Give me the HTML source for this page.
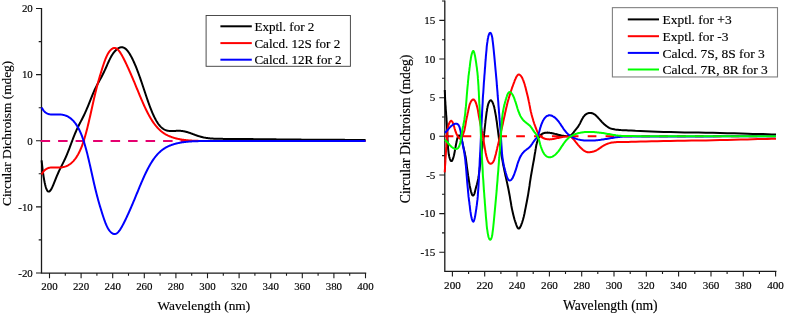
<!DOCTYPE html><html><head><meta charset="utf-8"><title>CD spectra</title>
<style>html,body{margin:0;padding:0;background:#fff}svg{display:block}text{font-family:"Liberation Serif",serif;fill:#000;stroke:#000;stroke-width:0.16px}</style></head><body>
<svg width="787" height="315" viewBox="0 0 787 315">
<rect width="787" height="315" fill="#fff"/>
<g stroke="#1a1a1a" stroke-width="1.3" fill="none" stroke-linecap="butt">
<path d="M41.5,7.9 V273.75 M40.85,273.1 H366.20000000000005"/>
<path d="M49.5,273.1 v5.1 M65.3,273.1 v2.6 M81.1,273.1 v5.1 M96.9,273.1 v2.6 M112.7,273.1 v5.1 M128.5,273.1 v2.6 M144.3,273.1 v5.1 M160.1,273.1 v2.6 M175.9,273.1 v5.1 M191.7,273.1 v2.6 M207.5,273.1 v5.1 M223.3,273.1 v2.6 M239.1,273.1 v5.1 M254.9,273.1 v2.6 M270.7,273.1 v5.1 M286.5,273.1 v2.6 M302.3,273.1 v5.1 M318.1,273.1 v2.6 M333.9,273.1 v5.1 M349.7,273.1 v2.6 M365.5,273.1 v5.1 M41.5,8.5 h-5.5 M41.5,74.6 h-5.5 M41.5,140.8 h-5.5 M41.5,206.9 h-5.5 M41.5,273.0 h-5.5 M41.5,41.6 h-2.8 M41.5,107.7 h-2.8 M41.5,173.8 h-2.8 M41.5,239.9 h-2.8 " stroke-width="1.1"/>
</g>
<g font-size="10.9" text-anchor="middle">
<text x="49.5" y="289.8">200</text>
<text x="81.1" y="289.8">220</text>
<text x="112.7" y="289.8">240</text>
<text x="144.3" y="289.8">260</text>
<text x="175.9" y="289.8">280</text>
<text x="207.5" y="289.8">300</text>
<text x="239.1" y="289.8">320</text>
<text x="270.7" y="289.8">340</text>
<text x="302.3" y="289.8">360</text>
<text x="333.9" y="289.8">380</text>
<text x="365.5" y="289.8">400</text>
</g>
<g font-size="10.9" text-anchor="end">
<text x="32.8" y="12.2">20</text>
<text x="32.8" y="78.3">10</text>
<text x="32.8" y="144.5">0</text>
<text x="32.8" y="210.6">-10</text>
<text x="32.8" y="276.7">-20</text>
</g>
<text font-size="13.35" text-anchor="middle" x="203.8" y="310.4">Wavelength (nm)</text>
<text font-size="13.35" text-anchor="middle" transform="translate(10.5,133.4) rotate(-90)">Circular Dichroism (mdeg)</text>
<path d="M40.6,141.05 H366" stroke="#e5006f" stroke-width="2.1" stroke-dasharray="9.5 8" fill="none"/>
<path d="M41.6,160.43 L42.1,165.05 L42.6,169.28 L43.1,173.10 L43.6,176.54 L44.1,179.59 L44.6,182.26 L45.1,184.57 L45.6,186.52 L46.1,188.12 L46.6,189.40 L47.1,190.37 L47.6,191.05 L48.1,191.46 L48.6,191.62 L49.1,191.55 L49.6,191.27 L50.1,190.80 L50.6,190.17 L51.1,189.40 L51.6,188.51 L52.1,187.51 L52.6,186.43 L53.1,185.28 L53.6,184.09 L54.1,182.86 L54.6,181.61 L55.1,180.36 L55.6,179.11 L56.1,177.87 L56.6,176.65 L57.1,175.45 L57.6,174.28 L58.1,173.14 L58.6,172.03 L59.1,170.95 L59.6,169.89 L60.1,168.86 L60.6,167.84 L61.1,166.84 L61.6,165.85 L62.1,164.87 L62.6,163.88 L63.1,162.88 L63.6,161.88 L64.1,160.85 L64.6,159.80 L65.1,158.73 L65.6,157.63 L66.1,156.50 L66.6,155.34 L67.1,154.14 L67.6,152.92 L68.1,151.67 L68.6,150.39 L69.1,149.09 L69.6,147.78 L70.1,146.44 L70.6,145.10 L71.1,143.76 L71.6,142.41 L72.1,141.07 L72.6,139.75 L73.1,138.43 L73.6,137.14 L74.1,135.87 L74.6,134.63 L75.1,133.42 L75.6,132.24 L76.1,131.08 L76.6,129.96 L77.1,128.87 L77.6,127.81 L78.1,126.78 L78.6,125.76 L79.1,124.77 L79.6,123.79 L80.1,122.82 L80.6,121.86 L81.1,120.90 L81.6,119.94 L82.1,118.97 L82.6,117.99 L83.1,117.00 L83.6,115.98 L84.1,114.95 L84.6,113.89 L85.1,112.81 L85.6,111.70 L86.1,110.57 L86.6,109.41 L87.1,108.23 L87.6,107.03 L88.1,105.81 L88.6,104.57 L89.1,103.33 L89.6,102.07 L90.1,100.81 L90.6,99.56 L91.1,98.30 L91.6,97.06 L92.1,95.83 L92.6,94.62 L93.1,93.44 L93.6,92.27 L94.1,91.13 L94.6,90.03 L95.1,88.95 L95.6,87.90 L96.1,86.88 L96.6,85.89 L97.1,84.92 L97.6,83.98 L98.1,83.06 L98.6,82.15 L99.1,81.25 L99.6,80.35 L100.1,79.46 L100.6,78.56 L101.1,77.65 L101.6,76.73 L102.1,75.78 L102.6,74.81 L103.1,73.82 L103.6,72.80 L104.1,71.76 L104.6,70.69 L105.1,69.60 L105.6,68.49 L106.1,67.37 L106.6,66.23 L107.1,65.10 L107.6,63.96 L108.1,62.84 L108.6,61.74 L109.1,60.66 L109.6,59.61 L110.1,58.60 L110.6,57.62 L111.1,56.70 L111.6,55.81 L112.1,54.98 L112.6,54.20 L113.1,53.46 L113.6,52.77 L114.1,52.13 L114.6,51.53 L115.1,50.98 L115.6,50.46 L116.1,49.99 L116.6,49.55 L117.1,49.14 L117.6,48.77 L118.1,48.44 L118.6,48.15 L119.1,47.89 L119.6,47.67 L120.1,47.50 L120.6,47.36 L121.1,47.28 L121.6,47.24 L122.1,47.25 L122.6,47.31 L123.1,47.43 L123.6,47.60 L124.1,47.83 L124.6,48.11 L125.1,48.45 L125.6,48.84 L126.1,49.29 L126.6,49.79 L127.1,50.34 L127.6,50.94 L128.1,51.59 L128.6,52.28 L129.1,53.02 L129.6,53.80 L130.1,54.62 L130.6,55.48 L131.1,56.38 L131.6,57.32 L132.1,58.29 L132.6,59.29 L133.1,60.33 L133.6,61.40 L134.1,62.50 L134.6,63.63 L135.1,64.79 L135.6,65.99 L136.1,67.21 L136.6,68.46 L137.1,69.74 L137.6,71.04 L138.1,72.38 L138.6,73.73 L139.1,75.11 L139.6,76.51 L140.1,77.93 L140.6,79.37 L141.1,80.83 L141.6,82.30 L142.1,83.78 L142.6,85.27 L143.1,86.77 L143.6,88.28 L144.1,89.78 L144.6,91.29 L145.1,92.79 L145.6,94.29 L146.1,95.78 L146.6,97.26 L147.1,98.72 L147.6,100.17 L148.1,101.60 L148.6,103.01 L149.1,104.39 L149.6,105.75 L150.1,107.08 L150.6,108.39 L151.1,109.66 L151.6,110.90 L152.1,112.10 L152.6,113.27 L153.1,114.41 L153.6,115.50 L154.1,116.56 L154.6,117.57 L155.1,118.55 L155.6,119.49 L156.1,120.38 L156.6,121.24 L157.1,122.05 L157.6,122.83 L158.1,123.56 L158.6,124.25 L159.1,124.90 L159.6,125.52 L160.1,126.09 L160.6,126.63 L161.1,127.13 L161.6,127.59 L162.1,128.01 L162.6,128.41 L163.1,128.77 L163.6,129.09 L164.1,129.39 L164.6,129.65 L165.1,129.89 L165.6,130.10 L166.1,130.29 L166.6,130.45 L167.1,130.59 L167.6,130.71 L168.1,130.80 L168.6,130.88 L169.1,130.95 L169.6,130.99 L170.1,131.03 L170.6,131.05 L171.1,131.06 L171.6,131.06 L172.1,131.05 L172.6,131.04 L173.1,131.02 L173.6,131.00 L174.1,130.97 L174.6,130.94 L175.1,130.92 L175.6,130.89 L176.1,130.86 L176.6,130.84 L177.1,130.82 L177.6,130.81 L178.1,130.80 L178.6,130.80 L179.1,130.81 L179.6,130.82 L180.1,130.84 L180.6,130.87 L181.1,130.91 L181.6,130.96 L182.1,131.01 L182.6,131.08 L183.1,131.15 L183.6,131.24 L184.1,131.33 L184.6,131.43 L185.1,131.54 L185.6,131.66 L186.1,131.79 L186.6,131.92 L187.1,132.07 L187.6,132.22 L188.1,132.37 L188.6,132.53 L189.1,132.70 L189.6,132.87 L190.1,133.05 L190.6,133.23 L191.1,133.41 L191.6,133.59 L192.1,133.78 L192.6,133.97 L193.1,134.15 L193.6,134.34 L194.1,134.53 L194.6,134.71 L195.1,134.90 L195.6,135.08 L196.1,135.26 L196.6,135.43 L197.1,135.61 L197.6,135.78 L198.1,135.94 L198.6,136.10 L199.1,136.26 L199.6,136.41 L200.1,136.55 L200.6,136.69 L201.1,136.83 L201.6,136.96 L202.1,137.08 L202.6,137.20 L203.1,137.32 L203.6,137.42 L204.1,137.53 L204.6,137.62 L205.1,137.72 L205.6,137.80 L206.1,137.89 L206.6,137.96 L207.1,138.04 L207.6,138.10 L208.1,138.17 L208.6,138.23 L209.1,138.28 L209.6,138.33 L210.1,138.38 L210.6,138.43 L211.1,138.47 L211.6,138.51 L212.1,138.54 L212.6,138.57 L213.1,138.60 L213.6,138.63 L214.1,138.66 L214.6,138.68 L215.1,138.70 L215.6,138.72 L216.1,138.74 L216.6,138.75 L217.1,138.77 L217.6,138.78 L218.1,138.80 L218.6,138.81 L219.1,138.82 L219.6,138.83 L220.1,138.84 L220.6,138.84 L221.1,138.85 L221.6,138.86 L222.1,138.87 L222.6,138.87 L223.1,138.88 L223.6,138.88 L224.1,138.89 L224.6,138.89 L225.1,138.90 L225.6,138.90 L226.1,138.90 L226.6,138.91 L227.1,138.91 L227.6,138.92 L228.1,138.92 L228.6,138.92 L229.1,138.93 L229.6,138.93 L230.1,138.93 L230.6,138.94 L231.1,138.94 L231.6,138.94 L232.1,138.95 L232.6,138.95 L233.1,138.95 L233.6,138.96 L234.1,138.96 L234.6,138.96 L235.1,138.97 L235.6,138.97 L236.1,138.97 L236.6,138.98 L237.1,138.98 L237.6,138.98 L238.1,138.99 L238.6,138.99 L239.1,139.00 L239.6,139.00 L240.1,139.00 L240.6,139.01 L241.1,139.01 L241.6,139.02 L242.1,139.02 L242.6,139.02 L243.1,139.03 L243.6,139.03 L244.1,139.04 L244.6,139.04 L245.1,139.04 L245.6,139.05 L246.1,139.05 L246.6,139.06 L247.1,139.06 L247.6,139.07 L248.1,139.07 L248.6,139.08 L249.1,139.08 L249.6,139.09 L250.1,139.09 L250.6,139.10 L251.1,139.10 L251.6,139.11 L252.1,139.11 L252.6,139.12 L253.1,139.12 L253.6,139.13 L254.1,139.13 L254.6,139.14 L255.1,139.14 L255.6,139.15 L256.1,139.15 L256.6,139.16 L257.1,139.16 L257.6,139.17 L258.1,139.17 L258.6,139.18 L259.1,139.18 L259.6,139.19 L260.1,139.19 L260.6,139.20 L261.1,139.20 L261.6,139.21 L262.1,139.21 L262.6,139.22 L263.1,139.23 L263.6,139.23 L264.1,139.24 L264.6,139.24 L265.1,139.25 L265.6,139.25 L266.1,139.26 L266.6,139.26 L267.1,139.27 L267.6,139.28 L268.1,139.28 L268.6,139.29 L269.1,139.29 L269.6,139.30 L270.1,139.30 L270.6,139.31 L271.1,139.31 L271.6,139.32 L272.1,139.33 L272.6,139.33 L273.1,139.34 L273.6,139.34 L274.1,139.35 L274.6,139.35 L275.1,139.36 L275.6,139.36 L276.1,139.37 L276.6,139.38 L277.1,139.38 L277.6,139.39 L278.1,139.39 L278.6,139.40 L279.1,139.40 L279.6,139.41 L280.1,139.41 L280.6,139.42 L281.1,139.42 L281.6,139.43 L282.1,139.44 L282.6,139.44 L283.1,139.45 L283.6,139.45 L284.1,139.46 L284.6,139.46 L285.1,139.47 L285.6,139.47 L286.1,139.48 L286.6,139.48 L287.1,139.49 L287.6,139.49 L288.1,139.50 L288.6,139.50 L289.1,139.51 L289.6,139.51 L290.1,139.52 L290.6,139.52 L291.1,139.53 L291.6,139.53 L292.1,139.54 L292.6,139.54 L293.1,139.55 L293.6,139.55 L294.1,139.56 L294.6,139.56 L295.1,139.57 L295.6,139.57 L296.1,139.58 L296.6,139.58 L297.1,139.59 L297.6,139.59 L298.1,139.60 L298.6,139.60 L299.1,139.61 L299.6,139.61 L300.1,139.62 L300.6,139.62 L301.1,139.62 L301.6,139.63 L302.1,139.63 L302.6,139.64 L303.1,139.64 L303.6,139.65 L304.1,139.65 L304.6,139.65 L305.1,139.66 L305.6,139.66 L306.1,139.67 L306.6,139.67 L307.1,139.67 L307.6,139.68 L308.1,139.68 L308.6,139.69 L309.1,139.69 L309.6,139.69 L310.1,139.70 L310.6,139.70 L311.1,139.70 L311.6,139.71 L312.1,139.71 L312.6,139.72 L313.1,139.72 L313.6,139.72 L314.1,139.73 L314.6,139.73 L315.1,139.73 L315.6,139.74 L316.1,139.74 L316.6,139.74 L317.1,139.75 L317.6,139.75 L318.1,139.75 L318.6,139.76 L319.1,139.76 L319.6,139.76 L320.1,139.77 L320.6,139.77 L321.1,139.77 L321.6,139.77 L322.1,139.78 L322.6,139.78 L323.1,139.78 L323.6,139.79 L324.1,139.79 L324.6,139.79 L325.1,139.79 L325.6,139.80 L326.1,139.80 L326.6,139.80 L327.1,139.80 L327.6,139.81 L328.1,139.81 L328.6,139.81 L329.1,139.81 L329.6,139.82 L330.1,139.82 L330.6,139.82 L331.1,139.82 L331.6,139.83 L332.1,139.83 L332.6,139.83 L333.1,139.83 L333.6,139.83 L334.1,139.84 L334.6,139.84 L335.1,139.84 L335.6,139.84 L336.1,139.85 L336.6,139.85 L337.1,139.85 L337.6,139.85 L338.1,139.85 L338.6,139.85 L339.1,139.86 L339.6,139.86 L340.1,139.86 L340.6,139.86 L341.1,139.86 L341.6,139.87 L342.1,139.87 L342.6,139.87 L343.1,139.87 L343.6,139.87 L344.1,139.87 L344.6,139.87 L345.1,139.88 L345.6,139.88 L346.1,139.88 L346.6,139.88 L347.1,139.88 L347.6,139.88 L348.1,139.88 L348.6,139.89 L349.1,139.89 L349.6,139.89 L350.1,139.89 L350.6,139.89 L351.1,139.89 L351.6,139.89 L352.1,139.90 L352.6,139.90 L353.1,139.90 L353.6,139.90 L354.1,139.90 L354.6,139.90 L355.1,139.90 L355.6,139.90 L356.1,139.90 L356.6,139.90 L357.1,139.91 L357.6,139.91 L358.1,139.91 L358.6,139.91 L359.1,139.91 L359.6,139.91 L360.1,139.91 L360.6,139.91 L361.1,139.91 L361.6,139.91 L362.1,139.91 L362.6,139.92 L363.1,139.92 L363.6,139.92 L364.1,139.92 L364.6,139.92 L365.1,139.92 L365.6,139.92" stroke="#000" stroke-width="2" fill="none" stroke-linejoin="round" stroke-linecap="butt"/>
<path d="M41.6,174.56 L42.1,173.66 L42.6,172.84 L43.1,172.10 L43.6,171.44 L44.1,170.85 L44.6,170.32 L45.1,169.86 L45.6,169.45 L46.1,169.10 L46.6,168.79 L47.1,168.52 L47.6,168.30 L48.1,168.10 L48.6,167.94 L49.1,167.81 L49.6,167.71 L50.1,167.62 L50.6,167.56 L51.1,167.51 L51.6,167.48 L52.1,167.46 L52.6,167.45 L53.1,167.45 L53.6,167.46 L54.1,167.47 L54.6,167.49 L55.1,167.50 L55.6,167.52 L56.1,167.54 L56.6,167.55 L57.1,167.57 L57.6,167.57 L58.1,167.58 L58.6,167.57 L59.1,167.56 L59.6,167.54 L60.1,167.52 L60.6,167.48 L61.1,167.43 L61.6,167.37 L62.1,167.30 L62.6,167.22 L63.1,167.12 L63.6,167.01 L64.1,166.89 L64.6,166.75 L65.1,166.59 L65.6,166.42 L66.1,166.23 L66.6,166.02 L67.1,165.79 L67.6,165.54 L68.1,165.28 L68.6,164.99 L69.1,164.68 L69.6,164.35 L70.1,164.00 L70.6,163.62 L71.1,163.22 L71.6,162.79 L72.1,162.34 L72.6,161.86 L73.1,161.35 L73.6,160.81 L74.1,160.24 L74.6,159.63 L75.1,159.00 L75.6,158.32 L76.1,157.62 L76.6,156.87 L77.1,156.08 L77.6,155.25 L78.1,154.38 L78.6,153.45 L79.1,152.48 L79.6,151.46 L80.1,150.39 L80.6,149.26 L81.1,148.07 L81.6,146.82 L82.1,145.52 L82.6,144.15 L83.1,142.71 L83.6,141.21 L84.1,139.64 L84.6,138.01 L85.1,136.31 L85.6,134.55 L86.1,132.72 L86.6,130.83 L87.1,128.88 L87.6,126.88 L88.1,124.82 L88.6,122.72 L89.1,120.58 L89.6,118.40 L90.1,116.19 L90.6,113.96 L91.1,111.71 L91.6,109.45 L92.1,107.20 L92.6,104.95 L93.1,102.72 L93.6,100.50 L94.1,98.32 L94.6,96.17 L95.1,94.05 L95.6,91.98 L96.1,89.96 L96.6,87.98 L97.1,86.05 L97.6,84.17 L98.1,82.33 L98.6,80.54 L99.1,78.79 L99.6,77.07 L100.1,75.39 L100.6,73.73 L101.1,72.10 L101.6,70.48 L102.1,68.89 L102.6,67.32 L103.1,65.78 L103.6,64.27 L104.1,62.80 L104.6,61.38 L105.1,60.02 L105.6,58.73 L106.1,57.51 L106.6,56.37 L107.1,55.31 L107.6,54.34 L108.1,53.45 L108.6,52.64 L109.1,51.90 L109.6,51.23 L110.1,50.62 L110.6,50.08 L111.1,49.59 L111.6,49.16 L112.1,48.80 L112.6,48.49 L113.1,48.25 L113.6,48.07 L114.1,47.97 L114.6,47.93 L115.1,47.98 L115.6,48.10 L116.1,48.30 L116.6,48.57 L117.1,48.92 L117.6,49.34 L118.1,49.83 L118.6,50.38 L119.1,51.00 L119.6,51.67 L120.1,52.39 L120.6,53.16 L121.1,53.97 L121.6,54.82 L122.1,55.70 L122.6,56.62 L123.1,57.56 L123.6,58.52 L124.1,59.50 L124.6,60.51 L125.1,61.53 L125.6,62.56 L126.1,63.61 L126.6,64.67 L127.1,65.74 L127.6,66.82 L128.1,67.91 L128.6,69.02 L129.1,70.13 L129.6,71.25 L130.1,72.38 L130.6,73.52 L131.1,74.67 L131.6,75.83 L132.1,76.99 L132.6,78.17 L133.1,79.35 L133.6,80.54 L134.1,81.74 L134.6,82.94 L135.1,84.14 L135.6,85.35 L136.1,86.57 L136.6,87.78 L137.1,89.00 L137.6,90.22 L138.1,91.43 L138.6,92.64 L139.1,93.85 L139.6,95.06 L140.1,96.26 L140.6,97.45 L141.1,98.63 L141.6,99.80 L142.1,100.96 L142.6,102.11 L143.1,103.25 L143.6,104.37 L144.1,105.48 L144.6,106.57 L145.1,107.65 L145.6,108.70 L146.1,109.74 L146.6,110.77 L147.1,111.77 L147.6,112.75 L148.1,113.71 L148.6,114.65 L149.1,115.57 L149.6,116.46 L150.1,117.34 L150.6,118.19 L151.1,119.02 L151.6,119.83 L152.1,120.62 L152.6,121.38 L153.1,122.12 L153.6,122.84 L154.1,123.54 L154.6,124.22 L155.1,124.87 L155.6,125.50 L156.1,126.11 L156.6,126.70 L157.1,127.28 L157.6,127.83 L158.1,128.36 L158.6,128.87 L159.1,129.36 L159.6,129.84 L160.1,130.30 L160.6,130.74 L161.1,131.16 L161.6,131.57 L162.1,131.96 L162.6,132.34 L163.1,132.70 L163.6,133.05 L164.1,133.38 L164.6,133.70 L165.1,134.01 L165.6,134.30 L166.1,134.59 L166.6,134.86 L167.1,135.12 L167.6,135.37 L168.1,135.62 L168.6,135.85 L169.1,136.07 L169.6,136.28 L170.1,136.49 L170.6,136.69 L171.1,136.88 L171.6,137.06 L172.1,137.24 L172.6,137.40 L173.1,137.57 L173.6,137.72 L174.1,137.87 L174.6,138.02 L175.1,138.15 L175.6,138.29 L176.1,138.42 L176.6,138.54 L177.1,138.66 L177.6,138.77 L178.1,138.88 L178.6,138.99 L179.1,139.09 L179.6,139.18 L180.1,139.28 L180.6,139.37 L181.1,139.45 L181.6,139.54 L182.1,139.62 L182.6,139.69 L183.1,139.76 L183.6,139.83 L184.1,139.90 L184.6,139.96 L185.1,140.03 L185.6,140.08 L186.1,140.14 L186.6,140.19 L187.1,140.24 L187.6,140.29 L188.1,140.34 L188.6,140.38 L189.1,140.42 L189.6,140.46 L190.1,140.50 L190.6,140.53 L191.1,140.57 L191.6,140.60 L192.1,140.63 L192.6,140.65 L193.1,140.68 L193.6,140.71 L194.1,140.73 L194.6,140.75 L195.1,140.77 L195.6,140.79 L196.1,140.81 L196.6,140.82 L197.1,140.84 L197.6,140.85 L198.1,140.87 L198.6,140.88 L199.1,140.89 L199.6,140.90 L200.1,140.91 L200.6,140.92 L201.1,140.93 L201.6,140.94 L202.1,140.94 L202.6,140.95 L203.1,140.96 L203.6,140.96 L204.1,140.97 L204.6,140.97 L205.1,140.97 L205.6,140.98 L206.1,140.98 L206.6,140.98 L207.1,140.99 L207.6,140.99 L208.1,140.99 L208.6,140.99 L209.1,140.99 L209.6,141.00 L210.1,141.00 L210.6,141.00 L211.1,141.00 L211.6,141.00 L212.1,141.00 L212.6,141.00 L213.1,141.00 L213.6,141.00 L214.1,141.00 L214.6,141.00 L215.1,141.00 L215.6,141.00 L216.1,141.00 L216.6,141.00 L217.1,141.00 L217.6,141.00 L218.1,141.00 L218.6,141.00 L219.1,141.00 L219.6,141.00 L220.1,141.00 L220.6,141.00 L221.1,141.00 L221.6,141.00 L222.1,141.00 L222.6,141.00 L223.1,141.00 L223.6,141.00 L224.1,141.00 L224.6,141.00 L225.1,141.00 L225.6,141.00 L226.1,141.00 L226.6,141.00 L227.1,141.00 L227.6,141.00 L228.1,141.00 L228.6,141.00 L229.1,141.00 L229.6,141.00 L230.1,141.00 L230.6,141.00 L231.1,141.00 L231.6,141.00 L232.1,141.00 L232.6,141.00 L233.1,141.00 L233.6,141.00 L234.1,141.00 L234.6,141.00 L235.1,141.00 L235.6,141.00 L236.1,141.00 L236.6,141.00 L237.1,141.00 L237.6,141.00 L238.1,141.00 L238.6,141.00 L239.1,141.00 L239.6,141.00 L240.1,141.00 L240.6,141.00 L241.1,141.00 L241.6,141.00 L242.1,141.00 L242.6,141.00 L243.1,141.00 L243.6,141.00 L244.1,141.00 L244.6,141.00 L245.1,141.00 L245.6,141.00 L246.1,141.00 L246.6,141.00 L247.1,141.00 L247.6,141.00 L248.1,141.00 L248.6,141.00 L249.1,141.00 L249.6,141.00 L250.1,141.00 L250.6,141.00 L251.1,141.00 L251.6,141.00 L252.1,141.00 L252.6,141.00 L253.1,141.00 L253.6,141.00 L254.1,141.00 L254.6,141.00 L255.1,141.00 L255.6,141.00 L256.1,141.00 L256.6,141.00 L257.1,141.00 L257.6,141.00 L258.1,141.00 L258.6,141.00 L259.1,141.00 L259.6,141.00 L260.1,141.00 L260.6,141.00 L261.1,141.00 L261.6,141.00 L262.1,141.00 L262.6,141.00 L263.1,141.00 L263.6,141.00 L264.1,141.00 L264.6,141.00 L265.1,141.00 L265.6,141.00 L266.1,141.00 L266.6,141.00 L267.1,141.00 L267.6,141.00 L268.1,141.00 L268.6,141.00 L269.1,141.00 L269.6,141.00 L270.1,141.00 L270.6,141.00 L271.1,141.00 L271.6,141.00 L272.1,141.00 L272.6,141.00 L273.1,141.00 L273.6,141.00 L274.1,141.00 L274.6,141.00 L275.1,141.00 L275.6,141.00 L276.1,141.00 L276.6,141.00 L277.1,141.00 L277.6,141.00 L278.1,141.00 L278.6,141.00 L279.1,141.00 L279.6,141.00 L280.1,141.00 L280.6,141.00 L281.1,141.00 L281.6,141.00 L282.1,141.00 L282.6,141.00 L283.1,141.00 L283.6,141.00 L284.1,141.00 L284.6,141.00 L285.1,141.00 L285.6,141.00 L286.1,141.00 L286.6,141.00 L287.1,141.00 L287.6,141.00 L288.1,141.00 L288.6,141.00 L289.1,141.00 L289.6,141.00 L290.1,141.00 L290.6,141.00 L291.1,141.00 L291.6,141.00 L292.1,141.00 L292.6,141.00 L293.1,141.00 L293.6,141.00 L294.1,141.00 L294.6,141.00 L295.1,141.00 L295.6,141.00 L296.1,141.00 L296.6,141.00 L297.1,141.00 L297.6,141.00 L298.1,141.00 L298.6,141.00 L299.1,141.00 L299.6,141.00 L300.1,141.00 L300.6,141.00 L301.1,141.00 L301.6,141.00 L302.1,141.00 L302.6,141.00 L303.1,141.00 L303.6,141.00 L304.1,141.00 L304.6,141.00 L305.1,141.00 L305.6,141.00 L306.1,141.00 L306.6,141.00 L307.1,141.00 L307.6,141.00 L308.1,141.00 L308.6,141.00 L309.1,141.00 L309.6,141.00 L310.1,141.00 L310.6,141.00 L311.1,141.00 L311.6,141.00 L312.1,141.00 L312.6,141.00 L313.1,141.00 L313.6,141.00 L314.1,141.00 L314.6,141.00 L315.1,141.00 L315.6,141.00 L316.1,141.00 L316.6,141.00 L317.1,141.00 L317.6,141.00 L318.1,141.00 L318.6,141.00 L319.1,141.00 L319.6,141.00 L320.1,141.00 L320.6,141.00 L321.1,141.00 L321.6,141.00 L322.1,141.00 L322.6,141.00 L323.1,141.00 L323.6,141.00 L324.1,141.00 L324.6,141.00 L325.1,141.00 L325.6,141.00 L326.1,141.00 L326.6,141.00 L327.1,141.00 L327.6,141.00 L328.1,141.00 L328.6,141.00 L329.1,141.00 L329.6,141.00 L330.1,141.00 L330.6,141.00 L331.1,141.00 L331.6,141.00 L332.1,141.00 L332.6,141.00 L333.1,141.00 L333.6,141.00 L334.1,141.00 L334.6,141.00 L335.1,141.00 L335.6,141.00 L336.1,141.00 L336.6,141.00 L337.1,141.00 L337.6,141.00 L338.1,141.00 L338.6,141.00 L339.1,141.00 L339.6,141.00 L340.1,141.00 L340.6,141.00 L341.1,141.00 L341.6,141.00 L342.1,141.00 L342.6,141.00 L343.1,141.00 L343.6,141.00 L344.1,141.00 L344.6,141.00 L345.1,141.00 L345.6,141.00 L346.1,141.00 L346.6,141.00 L347.1,141.00 L347.6,141.00 L348.1,141.00 L348.6,141.00 L349.1,141.00 L349.6,141.00 L350.1,141.00 L350.6,141.00 L351.1,141.00 L351.6,141.00 L352.1,141.00 L352.6,141.00 L353.1,141.00 L353.6,141.00 L354.1,141.00 L354.6,141.00 L355.1,141.00 L355.6,141.00 L356.1,141.00 L356.6,141.00 L357.1,141.00 L357.6,141.00 L358.1,141.00 L358.6,141.00 L359.1,141.00 L359.6,141.00 L360.1,141.00 L360.6,141.00 L361.1,141.00 L361.6,141.00 L362.1,141.00 L362.6,141.00 L363.1,141.00 L363.6,141.00 L364.1,141.00 L364.6,141.00 L365.1,141.00 L365.6,141.00" stroke="#ff0000" stroke-width="2" fill="none" stroke-linejoin="round" stroke-linecap="butt"/>
<path d="M41.6,107.44 L42.1,108.34 L42.6,109.16 L43.1,109.90 L43.6,110.56 L44.1,111.15 L44.6,111.68 L45.1,112.14 L45.6,112.55 L46.1,112.90 L46.6,113.21 L47.1,113.48 L47.6,113.70 L48.1,113.90 L48.6,114.06 L49.1,114.19 L49.6,114.29 L50.1,114.38 L50.6,114.44 L51.1,114.49 L51.6,114.52 L52.1,114.54 L52.6,114.55 L53.1,114.55 L53.6,114.54 L54.1,114.53 L54.6,114.51 L55.1,114.50 L55.6,114.48 L56.1,114.46 L56.6,114.45 L57.1,114.43 L57.6,114.43 L58.1,114.42 L58.6,114.43 L59.1,114.44 L59.6,114.46 L60.1,114.48 L60.6,114.52 L61.1,114.57 L61.6,114.63 L62.1,114.70 L62.6,114.78 L63.1,114.88 L63.6,114.99 L64.1,115.11 L64.6,115.25 L65.1,115.41 L65.6,115.58 L66.1,115.77 L66.6,115.98 L67.1,116.21 L67.6,116.46 L68.1,116.72 L68.6,117.01 L69.1,117.32 L69.6,117.65 L70.1,118.00 L70.6,118.38 L71.1,118.78 L71.6,119.21 L72.1,119.66 L72.6,120.14 L73.1,120.65 L73.6,121.19 L74.1,121.76 L74.6,122.37 L75.1,123.00 L75.6,123.68 L76.1,124.38 L76.6,125.13 L77.1,125.92 L77.6,126.75 L78.1,127.62 L78.6,128.55 L79.1,129.52 L79.6,130.54 L80.1,131.61 L80.6,132.74 L81.1,133.93 L81.6,135.18 L82.1,136.48 L82.6,137.85 L83.1,139.29 L83.6,140.79 L84.1,142.36 L84.6,143.99 L85.1,145.69 L85.6,147.45 L86.1,149.28 L86.6,151.17 L87.1,153.12 L87.6,155.12 L88.1,157.18 L88.6,159.28 L89.1,161.42 L89.6,163.60 L90.1,165.81 L90.6,168.04 L91.1,170.29 L91.6,172.55 L92.1,174.80 L92.6,177.05 L93.1,179.28 L93.6,181.50 L94.1,183.68 L94.6,185.83 L95.1,187.95 L95.6,190.02 L96.1,192.04 L96.6,194.02 L97.1,195.95 L97.6,197.83 L98.1,199.67 L98.6,201.46 L99.1,203.21 L99.6,204.93 L100.1,206.61 L100.6,208.27 L101.1,209.90 L101.6,211.52 L102.1,213.11 L102.6,214.68 L103.1,216.22 L103.6,217.73 L104.1,219.20 L104.6,220.62 L105.1,221.98 L105.6,223.27 L106.1,224.49 L106.6,225.63 L107.1,226.69 L107.6,227.66 L108.1,228.55 L108.6,229.36 L109.1,230.10 L109.6,230.77 L110.1,231.38 L110.6,231.92 L111.1,232.41 L111.6,232.84 L112.1,233.20 L112.6,233.51 L113.1,233.75 L113.6,233.93 L114.1,234.03 L114.6,234.07 L115.1,234.02 L115.6,233.90 L116.1,233.70 L116.6,233.43 L117.1,233.08 L117.6,232.66 L118.1,232.17 L118.6,231.62 L119.1,231.00 L119.6,230.33 L120.1,229.61 L120.6,228.84 L121.1,228.03 L121.6,227.18 L122.1,226.30 L122.6,225.38 L123.1,224.44 L123.6,223.48 L124.1,222.50 L124.6,221.49 L125.1,220.47 L125.6,219.44 L126.1,218.39 L126.6,217.33 L127.1,216.26 L127.6,215.18 L128.1,214.09 L128.6,212.98 L129.1,211.87 L129.6,210.75 L130.1,209.62 L130.6,208.48 L131.1,207.33 L131.6,206.17 L132.1,205.01 L132.6,203.83 L133.1,202.65 L133.6,201.46 L134.1,200.26 L134.6,199.06 L135.1,197.86 L135.6,196.65 L136.1,195.43 L136.6,194.22 L137.1,193.00 L137.6,191.78 L138.1,190.57 L138.6,189.36 L139.1,188.15 L139.6,186.94 L140.1,185.74 L140.6,184.55 L141.1,183.37 L141.6,182.20 L142.1,181.04 L142.6,179.89 L143.1,178.75 L143.6,177.63 L144.1,176.52 L144.6,175.43 L145.1,174.35 L145.6,173.30 L146.1,172.26 L146.6,171.23 L147.1,170.23 L147.6,169.25 L148.1,168.29 L148.6,167.35 L149.1,166.43 L149.6,165.54 L150.1,164.66 L150.6,163.81 L151.1,162.98 L151.6,162.17 L152.1,161.38 L152.6,160.62 L153.1,159.88 L153.6,159.16 L154.1,158.46 L154.6,157.78 L155.1,157.13 L155.6,156.50 L156.1,155.89 L156.6,155.30 L157.1,154.72 L157.6,154.17 L158.1,153.64 L158.6,153.13 L159.1,152.64 L159.6,152.16 L160.1,151.70 L160.6,151.26 L161.1,150.84 L161.6,150.43 L162.1,150.04 L162.6,149.66 L163.1,149.30 L163.6,148.95 L164.1,148.62 L164.6,148.30 L165.1,147.99 L165.6,147.70 L166.1,147.41 L166.6,147.14 L167.1,146.88 L167.6,146.63 L168.1,146.38 L168.6,146.15 L169.1,145.93 L169.6,145.72 L170.1,145.51 L170.6,145.31 L171.1,145.12 L171.6,144.94 L172.1,144.76 L172.6,144.60 L173.1,144.43 L173.6,144.28 L174.1,144.13 L174.6,143.98 L175.1,143.85 L175.6,143.71 L176.1,143.58 L176.6,143.46 L177.1,143.34 L177.6,143.23 L178.1,143.12 L178.6,143.01 L179.1,142.91 L179.6,142.82 L180.1,142.72 L180.6,142.63 L181.1,142.55 L181.6,142.46 L182.1,142.38 L182.6,142.31 L183.1,142.24 L183.6,142.17 L184.1,142.10 L184.6,142.04 L185.1,141.97 L185.6,141.92 L186.1,141.86 L186.6,141.81 L187.1,141.76 L187.6,141.71 L188.1,141.66 L188.6,141.62 L189.1,141.58 L189.6,141.54 L190.1,141.50 L190.6,141.47 L191.1,141.43 L191.6,141.40 L192.1,141.37 L192.6,141.35 L193.1,141.32 L193.6,141.29 L194.1,141.27 L194.6,141.25 L195.1,141.23 L195.6,141.21 L196.1,141.19 L196.6,141.18 L197.1,141.16 L197.6,141.15 L198.1,141.13 L198.6,141.12 L199.1,141.11 L199.6,141.10 L200.1,141.09 L200.6,141.08 L201.1,141.07 L201.6,141.06 L202.1,141.06 L202.6,141.05 L203.1,141.04 L203.6,141.04 L204.1,141.03 L204.6,141.03 L205.1,141.03 L205.6,141.02 L206.1,141.02 L206.6,141.02 L207.1,141.01 L207.6,141.01 L208.1,141.01 L208.6,141.01 L209.1,141.01 L209.6,141.00 L210.1,141.00 L210.6,141.00 L211.1,141.00 L211.6,141.00 L212.1,141.00 L212.6,141.00 L213.1,141.00 L213.6,141.00 L214.1,141.00 L214.6,141.00 L215.1,141.00 L215.6,141.00 L216.1,141.00 L216.6,141.00 L217.1,141.00 L217.6,141.00 L218.1,141.00 L218.6,141.00 L219.1,141.00 L219.6,141.00 L220.1,141.00 L220.6,141.00 L221.1,141.00 L221.6,141.00 L222.1,141.00 L222.6,141.00 L223.1,141.00 L223.6,141.00 L224.1,141.00 L224.6,141.00 L225.1,141.00 L225.6,141.00 L226.1,141.00 L226.6,141.00 L227.1,141.00 L227.6,141.00 L228.1,141.00 L228.6,141.00 L229.1,141.00 L229.6,141.00 L230.1,141.00 L230.6,141.00 L231.1,141.00 L231.6,141.00 L232.1,141.00 L232.6,141.00 L233.1,141.00 L233.6,141.00 L234.1,141.00 L234.6,141.00 L235.1,141.00 L235.6,141.00 L236.1,141.00 L236.6,141.00 L237.1,141.00 L237.6,141.00 L238.1,141.00 L238.6,141.00 L239.1,141.00 L239.6,141.00 L240.1,141.00 L240.6,141.00 L241.1,141.00 L241.6,141.00 L242.1,141.00 L242.6,141.00 L243.1,141.00 L243.6,141.00 L244.1,141.00 L244.6,141.00 L245.1,141.00 L245.6,141.00 L246.1,141.00 L246.6,141.00 L247.1,141.00 L247.6,141.00 L248.1,141.00 L248.6,141.00 L249.1,141.00 L249.6,141.00 L250.1,141.00 L250.6,141.00 L251.1,141.00 L251.6,141.00 L252.1,141.00 L252.6,141.00 L253.1,141.00 L253.6,141.00 L254.1,141.00 L254.6,141.00 L255.1,141.00 L255.6,141.00 L256.1,141.00 L256.6,141.00 L257.1,141.00 L257.6,141.00 L258.1,141.00 L258.6,141.00 L259.1,141.00 L259.6,141.00 L260.1,141.00 L260.6,141.00 L261.1,141.00 L261.6,141.00 L262.1,141.00 L262.6,141.00 L263.1,141.00 L263.6,141.00 L264.1,141.00 L264.6,141.00 L265.1,141.00 L265.6,141.00 L266.1,141.00 L266.6,141.00 L267.1,141.00 L267.6,141.00 L268.1,141.00 L268.6,141.00 L269.1,141.00 L269.6,141.00 L270.1,141.00 L270.6,141.00 L271.1,141.00 L271.6,141.00 L272.1,141.00 L272.6,141.00 L273.1,141.00 L273.6,141.00 L274.1,141.00 L274.6,141.00 L275.1,141.00 L275.6,141.00 L276.1,141.00 L276.6,141.00 L277.1,141.00 L277.6,141.00 L278.1,141.00 L278.6,141.00 L279.1,141.00 L279.6,141.00 L280.1,141.00 L280.6,141.00 L281.1,141.00 L281.6,141.00 L282.1,141.00 L282.6,141.00 L283.1,141.00 L283.6,141.00 L284.1,141.00 L284.6,141.00 L285.1,141.00 L285.6,141.00 L286.1,141.00 L286.6,141.00 L287.1,141.00 L287.6,141.00 L288.1,141.00 L288.6,141.00 L289.1,141.00 L289.6,141.00 L290.1,141.00 L290.6,141.00 L291.1,141.00 L291.6,141.00 L292.1,141.00 L292.6,141.00 L293.1,141.00 L293.6,141.00 L294.1,141.00 L294.6,141.00 L295.1,141.00 L295.6,141.00 L296.1,141.00 L296.6,141.00 L297.1,141.00 L297.6,141.00 L298.1,141.00 L298.6,141.00 L299.1,141.00 L299.6,141.00 L300.1,141.00 L300.6,141.00 L301.1,141.00 L301.6,141.00 L302.1,141.00 L302.6,141.00 L303.1,141.00 L303.6,141.00 L304.1,141.00 L304.6,141.00 L305.1,141.00 L305.6,141.00 L306.1,141.00 L306.6,141.00 L307.1,141.00 L307.6,141.00 L308.1,141.00 L308.6,141.00 L309.1,141.00 L309.6,141.00 L310.1,141.00 L310.6,141.00 L311.1,141.00 L311.6,141.00 L312.1,141.00 L312.6,141.00 L313.1,141.00 L313.6,141.00 L314.1,141.00 L314.6,141.00 L315.1,141.00 L315.6,141.00 L316.1,141.00 L316.6,141.00 L317.1,141.00 L317.6,141.00 L318.1,141.00 L318.6,141.00 L319.1,141.00 L319.6,141.00 L320.1,141.00 L320.6,141.00 L321.1,141.00 L321.6,141.00 L322.1,141.00 L322.6,141.00 L323.1,141.00 L323.6,141.00 L324.1,141.00 L324.6,141.00 L325.1,141.00 L325.6,141.00 L326.1,141.00 L326.6,141.00 L327.1,141.00 L327.6,141.00 L328.1,141.00 L328.6,141.00 L329.1,141.00 L329.6,141.00 L330.1,141.00 L330.6,141.00 L331.1,141.00 L331.6,141.00 L332.1,141.00 L332.6,141.00 L333.1,141.00 L333.6,141.00 L334.1,141.00 L334.6,141.00 L335.1,141.00 L335.6,141.00 L336.1,141.00 L336.6,141.00 L337.1,141.00 L337.6,141.00 L338.1,141.00 L338.6,141.00 L339.1,141.00 L339.6,141.00 L340.1,141.00 L340.6,141.00 L341.1,141.00 L341.6,141.00 L342.1,141.00 L342.6,141.00 L343.1,141.00 L343.6,141.00 L344.1,141.00 L344.6,141.00 L345.1,141.00 L345.6,141.00 L346.1,141.00 L346.6,141.00 L347.1,141.00 L347.6,141.00 L348.1,141.00 L348.6,141.00 L349.1,141.00 L349.6,141.00 L350.1,141.00 L350.6,141.00 L351.1,141.00 L351.6,141.00 L352.1,141.00 L352.6,141.00 L353.1,141.00 L353.6,141.00 L354.1,141.00 L354.6,141.00 L355.1,141.00 L355.6,141.00 L356.1,141.00 L356.6,141.00 L357.1,141.00 L357.6,141.00 L358.1,141.00 L358.6,141.00 L359.1,141.00 L359.6,141.00 L360.1,141.00 L360.6,141.00 L361.1,141.00 L361.6,141.00 L362.1,141.00 L362.6,141.00 L363.1,141.00 L363.6,141.00 L364.1,141.00 L364.6,141.00 L365.1,141.00 L365.6,141.00" stroke="#0000ff" stroke-width="2" fill="none" stroke-linejoin="round" stroke-linecap="butt"/>
<rect x="206.1" y="15.5" width="144.3" height="50.8" fill="#fff" stroke="#444" stroke-width="0.95"/>
<path d="M220.4,26.3 H251.8" stroke="#000" stroke-width="2"/>
<text font-size="13.1" x="254.4" y="31.0">Exptl. for 2</text>
<path d="M220.4,43.1 H251.8" stroke="#ff0000" stroke-width="2"/>
<text font-size="13.1" x="254.4" y="47.8">Calcd. 12S for 2</text>
<path d="M220.4,59.7 H251.8" stroke="#0000ff" stroke-width="2"/>
<text font-size="13.1" x="254.4" y="64.4">Calcd. 12R for 2</text>
<g stroke="#1a1a1a" stroke-width="1.3" fill="none" stroke-linecap="butt">
<path d="M444.8,0.6 V271.95 M444.15000000000003,271.3 H776.4"/>
<path d="M452.4,271.3 v5.1 M468.6,271.3 v2.6 M484.7,271.3 v5.1 M500.9,271.3 v2.6 M517.0,271.3 v5.1 M533.2,271.3 v2.6 M549.4,271.3 v5.1 M565.5,271.3 v2.6 M581.7,271.3 v5.1 M597.8,271.3 v2.6 M614.0,271.3 v5.1 M630.2,271.3 v2.6 M646.3,271.3 v5.1 M662.5,271.3 v2.6 M678.6,271.3 v5.1 M694.8,271.3 v2.6 M711.0,271.3 v5.1 M727.1,271.3 v2.6 M743.3,271.3 v5.1 M759.4,271.3 v2.6 M775.6,271.3 v5.1 M444.8,20.4 h-5.5 M444.8,59.0 h-5.5 M444.8,97.7 h-5.5 M444.8,136.3 h-5.5 M444.8,175.0 h-5.5 M444.8,213.6 h-5.5 M444.8,252.2 h-5.5 M444.8,1.0 h-2.8 M444.8,39.7 h-2.8 M444.8,78.3 h-2.8 M444.8,117.0 h-2.8 M444.8,155.6 h-2.8 M444.8,194.3 h-2.8 M444.8,232.9 h-2.8 " stroke-width="1.1"/>
</g>
<g font-size="11.1" text-anchor="middle">
<text x="452.4" y="288.5">200</text>
<text x="484.7" y="288.5">220</text>
<text x="517.0" y="288.5">240</text>
<text x="549.4" y="288.5">260</text>
<text x="581.7" y="288.5">280</text>
<text x="614.0" y="288.5">300</text>
<text x="646.3" y="288.5">320</text>
<text x="678.6" y="288.5">340</text>
<text x="711.0" y="288.5">360</text>
<text x="743.3" y="288.5">380</text>
<text x="775.6" y="288.5">400</text>
</g>
<g font-size="11.1" text-anchor="end">
<text x="435.4" y="24.1">15</text>
<text x="435.4" y="62.8">10</text>
<text x="435.4" y="101.4">5</text>
<text x="435.4" y="140.1">0</text>
<text x="435.4" y="178.7">-5</text>
<text x="435.4" y="217.4">-10</text>
<text x="435.4" y="256.0">-15</text>
</g>
<text font-size="13.65" text-anchor="middle" x="610.3" y="309.6">Wavelength (nm)</text>
<text font-size="13.65" text-anchor="middle" transform="translate(410.3,128.9) rotate(-90)">Circular Dichroism (mdeg)</text>
<path d="M444.7,136.35 H776" stroke="#ff0000" stroke-width="2" stroke-dasharray="8.7 9.175" fill="none"/>
<path d="M444.8,90.0 L444.8,91.3 L444.9,92.6 L444.9,93.9 L445.0,95.2 L445.0,96.5 L445.1,97.8 L445.1,99.0 L445.2,100.2 L445.3,101.4 L445.4,102.6 L445.4,103.8 L445.5,105.0 L445.6,106.2 L445.7,107.3 L445.7,108.5 L445.8,109.6 L445.9,110.8 L446.0,111.9 L446.1,113.0 L446.1,114.0 L446.2,115.1 L446.3,116.2 L446.4,117.3 L446.5,118.5 L446.5,119.7 L446.6,121.1 L446.7,122.6 L446.8,124.1 L446.9,125.7 L447.0,127.4 L447.1,129.9 L447.2,132.8 L447.4,135.8 L447.5,138.9 L447.7,141.9 L447.9,144.9 L448.0,147.3 L448.2,149.3 L448.4,151.2 L448.6,152.9 L448.8,154.5 L449.1,155.9 L449.3,156.9 L449.5,157.6 L449.7,158.3 L449.9,158.9 L450.1,159.4 L450.3,159.9 L450.5,160.3 L450.6,160.5 L450.8,160.7 L451.0,160.9 L451.1,161.0 L451.3,161.1 L451.5,161.1 L451.6,161.1 L451.8,161.0 L452.0,160.8 L452.1,160.6 L452.3,160.3 L452.5,160.0 L452.7,159.4 L453.0,158.7 L453.2,158.0 L453.5,157.1 L453.7,156.3 L454.0,155.2 L454.3,153.7 L454.6,152.2 L454.9,150.6 L455.2,149.0 L455.5,147.4 L455.8,145.8 L456.0,144.5 L456.3,143.1 L456.6,141.8 L456.8,140.6 L457.1,139.4 L457.4,138.4 L457.6,137.6 L457.9,136.9 L458.1,136.3 L458.4,135.9 L458.7,135.6 L459.0,135.4 L459.3,135.5 L459.7,135.7 L460.0,136.0 L460.4,136.4 L460.7,136.9 L461.0,137.5 L461.4,138.5 L461.8,139.6 L462.1,140.9 L462.4,142.2 L462.7,143.6 L463.0,145.1 L463.4,146.9 L463.8,148.7 L464.2,150.6 L464.7,152.4 L465.0,154.2 L465.4,155.9 L465.7,157.5 L465.9,158.9 L466.1,160.4 L466.3,161.8 L466.5,163.3 L466.7,164.9 L466.9,166.8 L467.2,168.9 L467.5,171.0 L467.8,173.2 L468.1,175.5 L468.5,177.7 L468.8,179.8 L469.1,181.8 L469.4,183.8 L469.7,185.7 L470.1,187.5 L470.4,189.1 L470.7,190.3 L470.9,191.2 L471.2,192.1 L471.4,192.9 L471.7,193.7 L471.9,194.3 L472.1,194.7 L472.3,195.0 L472.4,195.2 L472.6,195.4 L472.8,195.5 L473.0,195.6 L473.2,195.6 L473.4,195.4 L473.6,195.2 L473.8,194.9 L474.0,194.5 L474.2,194.1 L474.5,193.4 L474.8,192.4 L475.0,191.4 L475.3,190.3 L475.6,189.1 L475.9,188.0 L476.2,186.8 L476.5,185.7 L476.9,184.5 L477.2,183.3 L477.5,182.0 L477.8,180.7 L478.2,179.0 L478.6,176.8 L478.9,174.5 L479.2,172.1 L479.6,169.7 L479.8,167.3 L480.1,165.1 L480.4,163.1 L480.6,161.1 L480.9,159.1 L481.1,157.2 L481.3,155.2 L481.6,153.2 L481.8,151.1 L482.1,149.1 L482.4,147.0 L482.6,145.1 L482.8,143.2 L483.0,141.7 L483.2,140.7 L483.3,139.7 L483.5,138.7 L483.6,137.8 L483.7,136.9 L483.9,135.9 L484.0,134.7 L484.2,133.4 L484.3,132.1 L484.5,130.7 L484.6,129.4 L484.8,128.0 L484.9,126.6 L485.1,125.2 L485.2,123.8 L485.4,122.4 L485.5,120.9 L485.7,119.5 L485.9,117.9 L486.1,116.3 L486.3,114.8 L486.5,113.2 L486.7,111.7 L487.0,110.2 L487.1,108.9 L487.4,107.7 L487.6,106.6 L487.9,105.4 L488.2,104.3 L488.5,103.3 L488.9,102.5 L489.2,101.8 L489.6,101.2 L490.0,100.7 L490.4,100.4 L490.8,100.3 L491.2,100.4 L491.6,100.7 L491.9,101.2 L492.3,101.8 L492.6,102.5 L493.0,103.3 L493.3,104.3 L493.7,105.3 L494.0,106.4 L494.3,107.5 L494.5,108.7 L494.8,109.8 L495.0,111.3 L495.3,112.8 L495.6,114.4 L495.9,116.0 L496.2,117.8 L496.4,119.6 L496.8,121.8 L497.1,124.3 L497.4,126.8 L497.8,129.3 L498.1,131.8 L498.4,134.3 L498.7,136.4 L498.9,138.3 L499.2,140.2 L499.4,142.0 L499.7,143.7 L499.9,145.4 L500.2,147.1 L500.4,148.7 L500.7,150.4 L500.9,152.0 L501.2,153.6 L501.5,155.2 L501.8,156.9 L502.1,158.5 L502.4,160.2 L502.7,161.9 L503.0,163.6 L503.3,165.3 L503.7,167.1 L504.1,169.0 L504.5,171.0 L504.9,172.9 L505.3,174.9 L505.8,176.9 L506.2,178.9 L506.7,181.1 L507.2,183.4 L507.7,185.7 L508.2,188.0 L508.7,190.5 L509.2,193.3 L509.8,196.4 L510.3,199.6 L510.9,202.8 L511.4,206.0 L512.0,209.1 L512.6,211.8 L513.1,214.0 L513.6,216.0 L514.1,217.9 L514.6,219.7 L515.1,221.3 L515.6,222.7 L515.9,223.6 L516.2,224.5 L516.5,225.3 L516.8,226.0 L517.1,226.7 L517.4,227.3 L517.6,227.7 L517.9,228.0 L518.1,228.3 L518.4,228.5 L518.6,228.6 L518.9,228.6 L519.1,228.5 L519.4,228.3 L519.6,228.1 L519.9,227.7 L520.1,227.4 L520.3,226.9 L520.6,226.3 L521.0,225.7 L521.2,225.0 L521.5,224.2 L521.8,223.4 L522.1,222.6 L522.5,221.3 L522.9,220.0 L523.3,218.5 L523.7,217.0 L524.1,215.3 L524.5,213.5 L525.0,210.8 L525.6,207.9 L526.2,204.8 L526.8,201.7 L527.4,198.5 L528.0,195.3 L528.5,192.1 L529.0,189.0 L529.5,185.9 L529.9,182.7 L530.4,179.6 L530.9,176.4 L531.5,173.0 L532.1,169.6 L532.7,166.2 L533.3,162.9 L533.9,159.7 L534.4,156.7 L534.7,154.7 L535.0,153.0 L535.3,151.4 L535.5,149.8 L535.8,148.4 L536.0,147.0 L536.2,145.9 L536.4,144.8 L536.7,143.7 L536.9,142.7 L537.2,141.7 L537.5,140.7 L537.7,139.9 L538.0,139.2 L538.3,138.4 L538.6,137.7 L539.0,137.1 L539.3,136.4 L539.7,135.9 L540.1,135.5 L540.5,135.1 L540.9,134.7 L541.4,134.3 L541.9,134.0 L542.4,133.7 L542.9,133.5 L543.4,133.3 L544.0,133.1 L544.6,133.0 L545.1,132.8 L545.7,132.7 L546.3,132.7 L546.9,132.7 L547.5,132.6 L548.0,132.7 L548.6,132.7 L549.3,132.7 L549.9,132.8 L550.6,132.9 L551.3,133.0 L551.9,133.2 L552.6,133.3 L553.4,133.5 L554.2,133.7 L555.0,133.9 L555.8,134.1 L556.7,134.3 L557.5,134.5 L558.4,134.8 L559.4,135.0 L560.4,135.2 L561.3,135.5 L562.3,135.7 L563.3,135.8 L564.2,136.0 L564.8,136.0 L565.5,136.1 L566.1,136.2 L566.7,136.2 L567.3,136.2 L567.9,136.1 L568.6,136.1 L569.2,135.9 L569.7,135.8 L570.3,135.5 L570.8,135.2 L571.4,134.8 L572.0,134.3 L572.6,133.6 L573.2,132.9 L573.8,132.2 L574.3,131.4 L574.9,130.7 L575.5,129.9 L576.1,129.2 L576.7,128.4 L577.3,127.7 L577.9,126.9 L578.4,126.1 L578.9,125.2 L579.5,124.3 L580.0,123.4 L580.5,122.4 L580.9,121.4 L581.4,120.5 L581.9,119.6 L582.3,118.8 L582.8,118.0 L583.2,117.2 L583.7,116.5 L584.3,115.8 L584.7,115.3 L585.2,114.9 L585.7,114.5 L586.2,114.1 L586.7,113.8 L587.2,113.6 L587.7,113.4 L588.2,113.2 L588.7,113.1 L589.2,113.0 L589.7,112.9 L590.2,112.9 L590.8,113.0 L591.3,113.0 L591.9,113.2 L592.4,113.3 L593.0,113.5 L593.5,113.8 L594.1,114.2 L594.8,114.6 L595.4,115.1 L596.0,115.6 L596.6,116.2 L597.2,116.8 L597.8,117.3 L598.2,117.8 L598.7,118.4 L599.2,118.9 L599.6,119.4 L600.1,119.9 L600.6,120.5 L601.1,121.0 L601.6,121.6 L602.0,122.1 L602.5,122.6 L603.0,123.0 L603.4,123.5 L603.8,123.9 L604.2,124.2 L604.7,124.6 L605.1,124.9 L605.5,125.3 L605.9,125.6 L606.3,125.9 L606.7,126.2 L607.1,126.5 L607.5,126.8 L607.9,127.0 L608.3,127.3 L608.8,127.6 L609.2,127.9 L609.8,128.1 L610.3,128.4 L610.9,128.6 L611.7,128.8 L612.8,129.1 L614.0,129.3 L615.2,129.5 L616.6,129.7 L617.9,129.8 L619.4,129.9 L621.0,130.1 L622.7,130.2 L624.4,130.2 L626.3,130.3 L628.3,130.4 L631.0,130.5 L635.4,130.8 L640.4,131.0 L645.8,131.2 L651.5,131.5 L657.4,131.7 L663.7,131.9 L670.6,132.1 L677.6,132.3 L684.6,132.4 L691.6,132.5 L698.6,132.6 L705.8,132.7 L712.9,132.8 L720.1,133.0 L727.2,133.2 L734.2,133.3 L741.0,133.5 L747.6,133.7 L752.9,133.9 L758.0,134.0 L762.9,134.1 L767.6,134.3 L771.9,134.4 L776.0,134.5" stroke="#000" stroke-width="2" fill="none" stroke-linejoin="round"/>
<path d="M444.7,172.4 L444.8,171.0 L444.9,169.6 L445.0,168.2 L445.0,166.8 L445.1,165.5 L445.2,164.1 L445.3,162.8 L445.4,161.5 L445.4,160.2 L445.5,158.8 L445.6,157.5 L445.7,156.1 L445.8,154.6 L445.9,153.0 L446.0,151.4 L446.1,149.8 L446.2,148.1 L446.4,146.4 L446.5,144.6 L446.7,142.7 L446.8,140.8 L447.0,138.9 L447.1,137.1 L447.2,135.4 L447.3,134.1 L447.4,132.9 L447.4,131.7 L447.5,130.6 L447.6,129.5 L447.8,128.4 L448.0,127.4 L448.2,126.3 L448.5,125.3 L448.8,124.4 L449.2,123.5 L449.5,122.7 L449.8,122.1 L450.1,121.7 L450.3,121.4 L450.6,121.1 L450.8,120.9 L451.1,120.8 L451.3,120.8 L451.6,120.9 L451.8,121.1 L452.0,121.4 L452.3,121.7 L452.5,122.1 L452.7,122.7 L453.1,123.5 L453.4,124.4 L453.7,125.3 L454.0,126.3 L454.3,127.3 L454.5,128.2 L454.8,129.1 L455.0,129.9 L455.3,130.7 L455.5,131.4 L455.8,132.2 L456.0,132.8 L456.3,133.4 L456.5,134.0 L456.8,134.5 L457.0,135.0 L457.3,135.5 L457.5,136.0 L457.8,136.3 L458.0,136.7 L458.3,137.0 L458.5,137.4 L458.8,137.7 L459.1,138.0 L459.3,138.2 L459.6,138.4 L459.8,138.5 L460.1,138.7 L460.3,138.7 L460.6,138.7 L460.9,138.5 L461.2,138.3 L461.5,138.0 L461.7,137.5 L462.0,137.1 L462.2,136.6 L462.5,136.0 L462.7,135.4 L462.9,134.8 L463.1,134.2 L463.3,133.6 L463.5,133.1 L463.7,132.6 L463.8,132.1 L464.0,131.6 L464.2,131.1 L464.3,130.6 L464.5,130.0 L464.7,128.8 L465.0,127.3 L465.3,125.7 L465.6,124.0 L465.9,122.2 L466.2,120.3 L466.6,118.6 L466.9,116.9 L467.3,115.2 L467.6,113.6 L468.0,112.0 L468.3,110.4 L468.6,109.0 L468.9,107.7 L469.2,106.4 L469.5,105.1 L469.9,103.9 L470.4,102.8 L470.8,101.9 L471.2,101.1 L471.7,100.5 L472.2,100.0 L472.7,99.6 L473.1,99.4 L473.6,99.5 L474.0,99.7 L474.4,100.1 L474.8,100.7 L475.2,101.3 L475.6,102.1 L475.9,103.0 L476.4,104.2 L476.7,105.4 L477.1,106.7 L477.4,108.0 L477.7,109.3 L478.0,110.7 L478.2,112.2 L478.5,113.7 L478.7,115.2 L479.0,116.7 L479.3,118.2 L479.5,119.6 L479.8,120.9 L480.0,122.2 L480.3,123.5 L480.6,124.8 L480.8,126.0 L481.1,127.3 L481.4,128.5 L481.7,129.7 L481.9,131.0 L482.2,132.3 L482.5,133.6 L482.7,135.1 L483.0,136.8 L483.3,138.6 L483.6,140.5 L483.9,142.4 L484.2,144.3 L484.5,146.1 L484.8,147.9 L485.1,149.6 L485.4,151.4 L485.7,153.0 L486.1,154.7 L486.4,156.2 L486.8,157.4 L487.1,158.6 L487.4,159.6 L487.8,160.6 L488.2,161.5 L488.6,162.2 L488.9,162.7 L489.2,163.0 L489.6,163.3 L489.9,163.6 L490.3,163.7 L490.7,163.7 L491.1,163.7 L491.5,163.5 L491.9,163.3 L492.3,163.0 L492.6,162.6 L493.0,162.1 L493.5,161.4 L493.9,160.5 L494.3,159.6 L494.6,158.5 L494.9,157.4 L495.2,156.3 L495.6,154.9 L496.0,153.4 L496.3,151.9 L496.7,150.4 L497.1,148.8 L497.4,147.2 L497.9,145.3 L498.4,143.2 L498.9,141.2 L499.4,139.0 L499.9,136.9 L500.3,134.8 L500.8,132.6 L501.3,130.4 L501.8,128.3 L502.3,126.1 L502.8,124.0 L503.2,121.9 L503.6,120.0 L504.0,118.2 L504.4,116.5 L504.8,114.8 L505.1,113.1 L505.5,111.4 L505.9,109.6 L506.3,107.7 L506.8,105.8 L507.2,104.0 L507.7,102.1 L508.2,100.2 L508.8,98.3 L509.3,96.4 L509.9,94.6 L510.5,92.7 L511.1,90.8 L511.7,89.0 L512.2,87.4 L512.8,85.9 L513.3,84.5 L513.8,83.1 L514.3,81.8 L514.7,80.6 L515.1,79.6 L515.5,78.9 L515.8,78.2 L516.1,77.5 L516.4,76.9 L516.7,76.3 L517.1,75.8 L517.3,75.5 L517.6,75.2 L517.9,74.9 L518.2,74.7 L518.5,74.5 L518.9,74.5 L519.2,74.5 L519.5,74.7 L519.9,74.9 L520.2,75.2 L520.6,75.5 L520.9,75.9 L521.3,76.4 L521.7,77.1 L522.1,77.8 L522.5,78.5 L522.8,79.3 L523.2,80.2 L523.7,81.6 L524.2,83.0 L524.7,84.5 L525.1,86.1 L525.6,87.8 L526.0,89.5 L526.5,91.5 L527.0,93.5 L527.5,95.5 L528.0,97.5 L528.4,99.5 L528.8,101.4 L529.2,103.0 L529.4,104.4 L529.7,105.9 L530.0,107.3 L530.2,108.6 L530.5,110.0 L530.8,111.5 L531.2,112.9 L531.5,114.3 L531.9,115.8 L532.3,117.2 L532.7,118.6 L533.1,119.9 L533.4,121.1 L533.8,122.3 L534.2,123.5 L534.6,124.6 L535.0,125.7 L535.4,126.7 L535.7,127.7 L536.1,128.6 L536.4,129.4 L536.8,130.3 L537.1,131.1 L537.4,131.7 L537.7,132.3 L538.0,132.8 L538.3,133.4 L538.5,133.9 L538.9,134.4 L539.2,134.8 L539.5,135.2 L539.8,135.6 L540.1,136.0 L540.5,136.3 L540.9,136.7 L541.4,137.0 L541.9,137.4 L542.5,137.7 L543.1,138.0 L543.7,138.3 L544.4,138.5 L545.1,138.8 L545.8,138.9 L546.5,139.1 L547.2,139.2 L547.9,139.3 L548.6,139.3 L549.4,139.4 L550.2,139.3 L551.0,139.3 L551.8,139.2 L552.7,139.1 L553.5,138.9 L554.4,138.8 L555.3,138.6 L556.3,138.3 L557.3,138.1 L558.3,137.9 L559.3,137.7 L560.3,137.4 L561.4,137.2 L562.5,137.0 L563.6,136.8 L564.7,136.7 L565.7,136.5 L566.6,136.5 L567.2,136.4 L567.8,136.4 L568.4,136.4 L568.9,136.5 L569.4,136.5 L569.8,136.6 L570.2,136.7 L570.6,136.9 L570.9,137.0 L571.3,137.2 L571.6,137.4 L571.9,137.7 L572.4,138.1 L572.8,138.5 L573.3,139.1 L573.8,139.6 L574.3,140.2 L574.8,140.8 L575.4,141.5 L576.0,142.3 L576.6,143.0 L577.2,143.8 L577.8,144.6 L578.4,145.3 L579.2,146.2 L579.9,147.0 L580.7,147.8 L581.5,148.6 L582.3,149.3 L583.1,150.0 L583.7,150.4 L584.2,150.8 L584.8,151.1 L585.4,151.4 L585.9,151.7 L586.5,151.9 L587.0,152.0 L587.5,152.2 L588.0,152.2 L588.6,152.3 L589.1,152.3 L589.6,152.3 L590.1,152.2 L590.6,152.1 L591.2,152.0 L591.7,151.9 L592.2,151.8 L592.7,151.7 L593.3,151.5 L593.8,151.4 L594.4,151.2 L594.9,151.0 L595.5,150.8 L596.2,150.5 L597.0,150.0 L598.0,149.4 L599.1,148.6 L600.2,147.9 L601.3,147.1 L602.4,146.3 L603.5,145.7 L604.5,145.1 L605.5,144.6 L606.5,144.1 L607.6,143.7 L608.6,143.4 L609.7,143.1 L610.8,142.8 L611.9,142.6 L613.1,142.4 L614.3,142.3 L615.5,142.2 L617.0,142.1 L619.0,142.0 L621.0,141.9 L623.2,141.9 L625.5,141.9 L628.1,141.9 L631.2,141.8 L635.8,141.7 L640.7,141.6 L646.0,141.5 L651.6,141.3 L657.3,141.2 L663.4,141.1 L670.4,140.9 L677.4,140.8 L684.5,140.7 L691.6,140.6 L698.8,140.5 L706.0,140.4 L713.1,140.2 L720.2,140.1 L727.2,139.9 L734.1,139.7 L740.9,139.6 L747.4,139.4 L752.7,139.2 L757.8,139.1 L762.7,139.0 L767.4,138.9 L771.8,138.8 L776.0,138.7" stroke="#ff0000" stroke-width="2" fill="none" stroke-linejoin="round"/>
<path d="M444.8,132.8 L445.2,132.5 L445.5,132.2 L445.9,131.9 L446.2,131.5 L446.6,131.1 L447.0,130.7 L447.3,130.3 L447.8,129.8 L448.2,129.3 L448.6,128.8 L449.0,128.4 L449.4,127.9 L449.9,127.4 L450.4,126.8 L450.9,126.4 L451.4,125.9 L451.9,125.5 L452.5,125.1 L453.0,124.7 L453.5,124.4 L454.0,124.2 L454.5,123.9 L455.0,123.8 L455.6,123.7 L456.0,123.7 L456.4,123.7 L456.8,123.8 L457.2,123.9 L457.5,124.1 L457.9,124.4 L458.2,124.7 L458.6,125.2 L458.9,125.8 L459.2,126.4 L459.5,127.1 L459.7,127.8 L460.0,128.9 L460.4,130.4 L460.7,131.9 L460.9,133.5 L461.2,135.1 L461.4,136.7 L461.7,138.2 L461.9,139.6 L462.1,141.1 L462.4,142.5 L462.6,143.9 L462.9,145.3 L463.2,146.7 L463.5,148.3 L463.8,149.9 L464.1,151.5 L464.4,153.2 L464.6,154.9 L464.9,156.8 L465.2,159.0 L465.4,161.2 L465.6,163.6 L465.9,165.9 L466.1,168.3 L466.3,170.8 L466.5,173.3 L466.7,175.9 L466.9,178.4 L467.1,180.8 L467.3,183.2 L467.5,185.5 L467.7,187.3 L467.9,189.2 L468.0,191.0 L468.2,192.8 L468.4,194.6 L468.5,196.4 L468.8,198.3 L469.0,200.3 L469.3,202.2 L469.5,204.2 L469.8,206.2 L470.0,208.1 L470.2,209.8 L470.4,211.4 L470.7,213.0 L470.9,214.6 L471.2,216.1 L471.5,217.6 L471.8,218.7 L472.1,219.6 L472.4,220.5 L472.7,221.1 L473.0,221.5 L473.3,221.7 L473.6,221.5 L473.9,220.9 L474.2,220.0 L474.5,218.9 L474.8,217.7 L475.1,216.3 L475.4,214.5 L475.7,212.6 L476.0,210.7 L476.3,208.8 L476.5,207.0 L476.8,205.2 L477.0,203.7 L477.1,202.3 L477.3,200.9 L477.5,199.4 L477.6,198.0 L477.8,196.4 L477.9,194.2 L478.1,191.7 L478.3,189.0 L478.5,186.3 L478.6,183.5 L478.8,180.8 L478.9,178.3 L479.0,176.0 L479.1,173.7 L479.2,171.4 L479.3,169.2 L479.5,166.9 L479.6,164.4 L479.7,161.7 L479.8,159.1 L480.0,156.4 L480.1,153.7 L480.3,151.1 L480.4,148.6 L480.5,146.3 L480.6,144.1 L480.7,141.8 L480.8,139.6 L480.9,137.3 L481.0,134.9 L481.2,132.3 L481.3,129.7 L481.4,127.0 L481.5,124.3 L481.7,121.5 L481.8,118.5 L482.0,115.3 L482.1,112.1 L482.3,108.8 L482.5,105.5 L482.7,102.2 L482.8,98.9 L483.0,95.6 L483.3,92.3 L483.5,89.0 L483.7,85.7 L483.9,82.4 L484.2,79.1 L484.4,75.8 L484.7,72.5 L484.9,69.1 L485.2,65.8 L485.4,62.5 L485.7,59.2 L485.9,56.1 L486.2,53.0 L486.5,50.0 L486.7,47.1 L487.0,44.3 L487.4,41.9 L487.6,40.4 L487.8,39.0 L488.1,37.7 L488.3,36.5 L488.6,35.5 L488.9,34.6 L489.1,34.1 L489.3,33.7 L489.5,33.3 L489.7,33.1 L490.0,32.9 L490.2,32.8 L490.4,32.9 L490.7,33.1 L490.9,33.4 L491.1,33.7 L491.3,34.2 L491.5,34.7 L491.8,35.6 L492.0,36.6 L492.3,37.8 L492.4,39.0 L492.6,40.4 L492.8,41.9 L493.1,44.3 L493.4,47.1 L493.7,50.0 L494.0,53.1 L494.3,56.2 L494.6,59.4 L494.9,62.7 L495.2,66.0 L495.5,69.3 L495.8,72.5 L496.1,75.8 L496.4,79.1 L496.7,82.4 L496.9,85.7 L497.2,89.0 L497.5,92.3 L497.7,95.7 L498.0,99.0 L498.3,102.3 L498.5,105.6 L498.8,108.9 L499.0,112.2 L499.3,115.4 L499.5,118.7 L499.8,121.7 L500.0,124.7 L500.3,127.7 L500.5,130.7 L500.7,133.6 L500.9,136.7 L501.1,139.7 L501.3,142.8 L501.5,145.8 L501.7,148.8 L501.9,151.7 L502.1,154.5 L502.4,156.8 L502.6,158.6 L502.9,160.4 L503.2,162.1 L503.5,163.7 L503.8,165.2 L504.1,166.7 L504.5,168.0 L504.8,169.3 L505.1,170.5 L505.5,171.8 L505.8,173.0 L506.2,174.2 L506.5,175.2 L506.8,176.1 L507.1,177.1 L507.4,177.9 L507.8,178.7 L508.1,179.3 L508.4,179.7 L508.7,180.0 L509.0,180.3 L509.3,180.4 L509.6,180.5 L509.9,180.5 L510.3,180.4 L510.7,180.2 L511.0,180.0 L511.4,179.6 L511.8,179.1 L512.1,178.6 L512.7,177.8 L513.1,176.8 L513.6,175.8 L514.1,174.7 L514.5,173.5 L514.9,172.3 L515.5,170.7 L516.0,169.1 L516.5,167.5 L517.0,165.9 L517.4,164.3 L517.9,162.8 L518.3,161.6 L518.8,160.4 L519.2,159.4 L519.6,158.3 L520.1,157.3 L520.5,156.4 L521.0,155.6 L521.5,154.8 L521.9,154.1 L522.5,153.4 L523.0,152.7 L523.6,152.1 L524.1,151.5 L524.7,151.0 L525.3,150.5 L526.0,150.0 L526.6,149.5 L527.2,149.0 L527.8,148.6 L528.3,148.2 L528.9,147.7 L529.4,147.3 L529.9,146.8 L530.4,146.3 L530.8,145.8 L531.2,145.2 L531.6,144.7 L532.0,144.1 L532.4,143.5 L532.7,142.9 L533.2,142.3 L533.6,141.6 L534.1,141.0 L534.6,140.3 L535.1,139.7 L535.5,139.1 L535.9,138.6 L536.3,138.2 L536.6,137.8 L536.9,137.3 L537.2,136.9 L537.5,136.3 L537.9,135.5 L538.4,134.3 L538.8,132.9 L539.3,131.5 L539.7,130.0 L540.1,128.4 L540.6,126.9 L541.0,125.6 L541.5,124.2 L542.0,123.0 L542.5,121.8 L543.0,120.6 L543.6,119.7 L544.0,119.0 L544.5,118.3 L545.0,117.7 L545.6,117.1 L546.1,116.6 L546.7,116.2 L547.2,115.9 L547.8,115.7 L548.3,115.5 L548.9,115.3 L549.4,115.3 L550.0,115.3 L550.6,115.4 L551.2,115.5 L551.8,115.7 L552.4,116.0 L552.9,116.3 L553.5,116.6 L554.2,117.1 L554.9,117.6 L555.5,118.1 L556.1,118.7 L556.7,119.3 L557.2,119.9 L557.7,120.5 L558.2,121.0 L558.7,121.6 L559.1,122.2 L559.5,122.8 L560.0,123.5 L560.5,124.2 L560.9,124.9 L561.4,125.7 L561.9,126.4 L562.5,127.2 L563.0,128.0 L563.5,128.8 L564.1,129.6 L564.7,130.4 L565.3,131.1 L565.9,131.9 L566.5,132.6 L567.1,133.2 L567.8,133.9 L568.5,134.5 L569.1,135.0 L569.8,135.6 L570.6,136.0 L571.2,136.5 L571.9,136.9 L572.6,137.3 L573.3,137.6 L574.1,138.0 L574.8,138.3 L575.6,138.6 L576.4,138.9 L577.1,139.1 L578.0,139.4 L578.8,139.6 L579.6,139.7 L580.4,139.9 L581.3,140.1 L582.1,140.2 L583.0,140.3 L583.8,140.4 L584.7,140.5 L585.7,140.5 L586.6,140.6 L587.6,140.6 L588.6,140.6 L589.6,140.6 L590.7,140.6 L591.7,140.6 L592.8,140.6 L594.0,140.5 L595.1,140.4 L596.2,140.3 L597.4,140.2 L598.5,140.1 L599.7,139.9 L600.8,139.8 L602.0,139.6 L603.1,139.5 L604.3,139.3 L605.4,139.1 L606.6,138.9 L607.8,138.7 L608.9,138.5 L610.1,138.3 L611.2,138.1 L612.4,137.9 L613.5,137.7 L614.7,137.5 L615.8,137.3 L616.9,137.2 L618.1,137.0 L619.3,136.9 L620.6,136.8 L621.9,136.7 L623.3,136.6 L624.9,136.6 L626.6,136.5 L628.8,136.5 L632.8,136.5 L637.5,136.4 L642.7,136.4 L648.4,136.4 L654.5,136.4 L661.2,136.4 L670.5,136.4 L680.1,136.4 L690.0,136.4 L700.2,136.4 L710.4,136.4 L720.7,136.3 L730.5,136.3 L740.3,136.3 L749.8,136.3 L758.9,136.3 L767.7,136.3 L776.0,136.3" stroke="#0000ff" stroke-width="2" fill="none" stroke-linejoin="round"/>
<path d="M444.8,139.8 L445.2,140.1 L445.5,140.4 L445.9,140.7 L446.2,141.1 L446.6,141.5 L447.0,141.9 L447.3,142.3 L447.8,142.8 L448.2,143.3 L448.6,143.8 L449.0,144.2 L449.4,144.7 L449.9,145.2 L450.4,145.8 L450.9,146.2 L451.4,146.7 L451.9,147.1 L452.5,147.5 L453.0,147.9 L453.5,148.2 L454.0,148.4 L454.5,148.7 L455.0,148.8 L455.6,148.9 L456.0,148.9 L456.4,148.9 L456.8,148.8 L457.2,148.7 L457.5,148.5 L457.9,148.2 L458.2,147.9 L458.6,147.4 L458.9,146.8 L459.2,146.2 L459.5,145.5 L459.7,144.8 L460.0,143.7 L460.4,142.2 L460.7,140.7 L460.9,139.1 L461.2,137.5 L461.4,135.9 L461.7,134.4 L461.9,133.0 L462.1,131.5 L462.4,130.1 L462.6,128.7 L462.9,127.3 L463.2,125.9 L463.5,124.3 L463.8,122.7 L464.1,121.1 L464.4,119.4 L464.6,117.7 L464.9,115.8 L465.2,113.6 L465.4,111.4 L465.6,109.0 L465.9,106.7 L466.1,104.3 L466.3,101.8 L466.5,99.3 L466.7,96.7 L466.9,94.2 L467.1,91.8 L467.3,89.4 L467.5,87.1 L467.7,85.3 L467.9,83.4 L468.0,81.6 L468.2,79.8 L468.4,78.0 L468.5,76.2 L468.8,74.3 L469.0,72.3 L469.3,70.4 L469.5,68.4 L469.8,66.4 L470.0,64.5 L470.2,62.8 L470.4,61.2 L470.7,59.6 L470.9,58.0 L471.2,56.5 L471.5,55.0 L471.8,53.9 L472.1,53.0 L472.4,52.1 L472.7,51.5 L473.0,51.1 L473.3,50.9 L473.6,51.1 L473.9,51.7 L474.2,52.6 L474.5,53.7 L474.8,54.9 L475.1,56.3 L475.4,58.1 L475.7,60.0 L476.0,61.9 L476.3,63.8 L476.5,65.6 L476.8,67.4 L477.0,68.9 L477.1,70.3 L477.3,71.7 L477.5,73.2 L477.6,74.6 L477.8,76.2 L477.9,78.4 L478.1,80.9 L478.3,83.6 L478.5,86.3 L478.6,89.1 L478.8,91.8 L478.9,94.3 L479.0,96.6 L479.1,98.9 L479.2,101.2 L479.3,103.4 L479.5,105.7 L479.6,108.2 L479.7,110.9 L479.8,113.5 L480.0,116.2 L480.1,118.9 L480.3,121.5 L480.4,124.0 L480.5,126.3 L480.6,128.5 L480.7,130.8 L480.8,133.0 L480.9,135.3 L481.0,137.7 L481.2,140.3 L481.3,142.9 L481.4,145.6 L481.5,148.3 L481.7,151.1 L481.8,154.1 L482.0,157.3 L482.1,160.5 L482.3,163.8 L482.5,167.1 L482.7,170.4 L482.8,173.7 L483.0,177.0 L483.3,180.3 L483.5,183.6 L483.7,186.9 L483.9,190.2 L484.2,193.5 L484.4,196.8 L484.7,200.1 L484.9,203.5 L485.2,206.8 L485.4,210.1 L485.7,213.4 L485.9,216.5 L486.2,219.6 L486.5,222.6 L486.7,225.5 L487.0,228.3 L487.4,230.7 L487.6,232.2 L487.8,233.6 L488.1,234.9 L488.3,236.1 L488.6,237.1 L488.9,238.0 L489.1,238.5 L489.3,238.9 L489.5,239.3 L489.7,239.5 L490.0,239.7 L490.2,239.8 L490.4,239.7 L490.7,239.5 L490.9,239.2 L491.1,238.9 L491.3,238.4 L491.5,237.9 L491.8,237.0 L492.0,236.0 L492.3,234.8 L492.4,233.6 L492.6,232.2 L492.8,230.7 L493.1,228.3 L493.4,225.5 L493.7,222.6 L494.0,219.5 L494.3,216.4 L494.6,213.2 L494.9,209.9 L495.2,206.6 L495.5,203.3 L495.8,200.1 L496.1,196.8 L496.4,193.5 L496.7,190.2 L496.9,186.9 L497.2,183.6 L497.5,180.3 L497.7,176.9 L498.0,173.6 L498.3,170.3 L498.5,167.0 L498.8,163.7 L499.0,160.4 L499.3,157.2 L499.5,153.9 L499.8,150.9 L500.0,147.9 L500.3,144.9 L500.5,141.9 L500.7,139.0 L500.9,135.9 L501.1,132.9 L501.3,129.8 L501.5,126.8 L501.7,123.8 L501.9,120.9 L502.1,118.1 L502.4,115.8 L502.6,114.0 L502.9,112.2 L503.2,110.5 L503.5,108.9 L503.8,107.4 L504.1,105.9 L504.5,104.6 L504.8,103.3 L505.1,102.1 L505.5,100.8 L505.8,99.6 L506.2,98.4 L506.5,97.4 L506.8,96.5 L507.1,95.5 L507.4,94.7 L507.8,93.9 L508.1,93.3 L508.4,92.9 L508.7,92.6 L509.0,92.3 L509.3,92.2 L509.6,92.1 L509.9,92.1 L510.3,92.2 L510.7,92.4 L511.0,92.6 L511.4,93.0 L511.8,93.5 L512.1,94.0 L512.7,94.8 L513.1,95.8 L513.6,96.8 L514.1,97.9 L514.5,99.1 L514.9,100.3 L515.5,101.9 L516.0,103.5 L516.5,105.1 L517.0,106.7 L517.4,108.3 L517.9,109.8 L518.3,111.0 L518.8,112.2 L519.2,113.2 L519.6,114.3 L520.1,115.3 L520.5,116.2 L521.0,117.0 L521.5,117.8 L521.9,118.5 L522.5,119.2 L523.0,119.9 L523.6,120.5 L524.1,121.1 L524.7,121.6 L525.3,122.1 L526.0,122.6 L526.6,123.1 L527.2,123.6 L527.8,124.0 L528.3,124.4 L528.9,124.9 L529.4,125.3 L529.9,125.8 L530.4,126.3 L530.8,126.8 L531.2,127.4 L531.6,127.9 L532.0,128.5 L532.4,129.1 L532.7,129.7 L533.2,130.3 L533.6,131.0 L534.1,131.6 L534.6,132.3 L535.1,132.9 L535.5,133.5 L535.9,134.0 L536.3,134.4 L536.6,134.8 L536.9,135.3 L537.2,135.7 L537.5,136.3 L537.9,137.1 L538.4,138.3 L538.8,139.7 L539.3,141.1 L539.7,142.6 L540.1,144.2 L540.6,145.7 L541.0,147.0 L541.5,148.4 L542.0,149.6 L542.5,150.8 L543.0,152.0 L543.6,152.9 L544.0,153.6 L544.5,154.3 L545.0,154.9 L545.6,155.5 L546.1,156.0 L546.7,156.4 L547.2,156.7 L547.8,156.9 L548.3,157.1 L548.9,157.3 L549.4,157.3 L550.0,157.3 L550.6,157.2 L551.2,157.1 L551.8,156.9 L552.4,156.6 L552.9,156.3 L553.5,156.0 L554.2,155.5 L554.9,155.0 L555.5,154.5 L556.1,153.9 L556.7,153.3 L557.2,152.7 L557.7,152.1 L558.2,151.6 L558.7,151.0 L559.1,150.4 L559.5,149.8 L560.0,149.1 L560.5,148.4 L560.9,147.7 L561.4,146.9 L561.9,146.2 L562.5,145.4 L563.0,144.6 L563.5,143.8 L564.1,143.0 L564.7,142.2 L565.3,141.5 L565.9,140.7 L566.5,140.0 L567.1,139.4 L567.8,138.7 L568.5,138.1 L569.1,137.6 L569.8,137.0 L570.6,136.6 L571.2,136.1 L571.9,135.7 L572.6,135.3 L573.3,135.0 L574.1,134.6 L574.8,134.3 L575.6,134.0 L576.4,133.7 L577.1,133.5 L578.0,133.2 L578.8,133.0 L579.6,132.9 L580.4,132.7 L581.3,132.5 L582.1,132.4 L583.0,132.3 L583.8,132.2 L584.7,132.1 L585.7,132.1 L586.6,132.0 L587.6,132.0 L588.6,132.0 L589.6,132.0 L590.7,132.0 L591.7,132.0 L592.8,132.0 L594.0,132.1 L595.1,132.2 L596.2,132.3 L597.4,132.4 L598.5,132.5 L599.7,132.7 L600.8,132.8 L602.0,133.0 L603.1,133.1 L604.3,133.3 L605.4,133.5 L606.6,133.7 L607.8,133.9 L608.9,134.1 L610.1,134.3 L611.2,134.5 L612.4,134.7 L613.5,134.9 L614.7,135.1 L615.8,135.3 L616.9,135.4 L618.1,135.6 L619.3,135.7 L620.6,135.8 L621.9,135.9 L623.3,136.0 L624.9,136.0 L626.6,136.1 L628.8,136.1 L632.8,136.1 L637.5,136.2 L642.7,136.2 L648.4,136.2 L654.5,136.2 L661.2,136.2 L670.5,136.2 L680.1,136.2 L690.0,136.2 L700.2,136.2 L710.4,136.2 L720.7,136.3 L730.5,136.3 L740.3,136.3 L749.8,136.3 L758.9,136.3 L767.7,136.3 L776.0,136.3" stroke="#00ff00" stroke-width="2" fill="none" stroke-linejoin="round"/>
<rect x="612.4" y="7.65" width="165.1" height="69.3" fill="#fff" stroke="#808080" stroke-width="1.1"/>
<path d="M627.8,19.4 H659" stroke="#000" stroke-width="2"/>
<text font-size="13.45" x="662.5" y="24.3">Exptl. for +3</text>
<path d="M627.8,36.2 H659" stroke="#ff0000" stroke-width="2"/>
<text font-size="13.45" x="662.5" y="41.1">Exptl. for -3</text>
<path d="M627.8,52.9 H659" stroke="#0000ff" stroke-width="2"/>
<text font-size="13.45" x="662.5" y="57.8">Calcd. 7S, 8S for 3</text>
<path d="M627.8,69.5 H659" stroke="#00ff00" stroke-width="2"/>
<text font-size="13.45" x="662.5" y="74.4">Calcd. 7R, 8R for 3</text>
</svg></body></html>
